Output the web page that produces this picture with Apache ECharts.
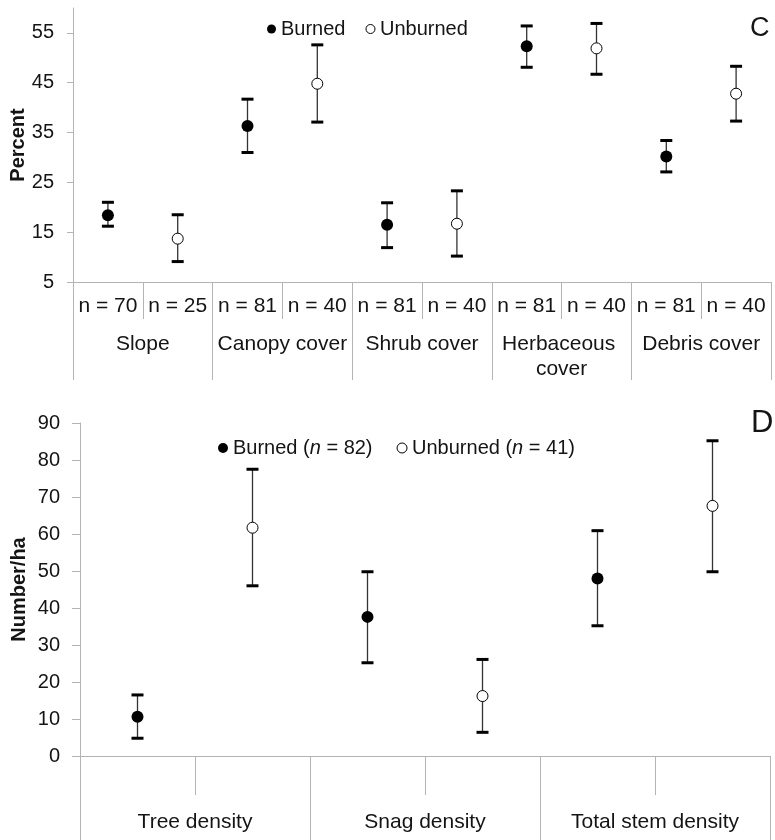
<!DOCTYPE html>
<html>
<head>
<meta charset="utf-8">
<script src="https://cdn.jsdelivr.net/npm/echarts@6/dist/echarts.min.js"></script>
<style>
  html, body { margin: 0; padding: 0; background: #fff; }
  #chart { width: 775px; height: 840px; }
</style>
</head>
<body>
<div id="chart"></div>
<script>
// panel C: cover variables
const coverGroups = ['Slope', 'Canopy cover', 'Shrub cover', 'Herbaceous cover', 'Debris cover'];
const coverBurnedN = [70, 81, 81, 81, 81];
const coverUnburnedN = [25, 40, 40, 40, 40];
const coverBurned = [18.4, 36.3, 16.5, 52.3, 30.2];
const coverBurnedLow = [16.2, 31.0, 11.9, 48.1, 27.1];
const coverBurnedHigh = [21.0, 41.7, 20.9, 56.4, 33.4];
const coverUnburned = [13.7, 44.8, 16.7, 51.9, 42.8];
const coverUnburnedLow = [9.1, 37.1, 10.2, 46.7, 37.3];
const coverUnburnedHigh = [18.5, 52.6, 23.3, 56.9, 48.3];
const coverTicks = [5, 15, 25, 35, 45, 55];

// panel D: densities
const densityGroups = ['Tree density', 'Snag density', 'Total stem density'];
const densityBurned = [10.6, 37.6, 48.0];
const densityBurnedLow = [4.8, 25.2, 35.2];
const densityBurnedHigh = [16.5, 49.8, 60.9];
const densityUnburned = [61.7, 16.2, 67.6];
const densityUnburnedLow = [46.0, 6.4, 49.8];
const densityUnburnedHigh = [77.5, 26.1, 85.2];
const burnedTotal = 82;
const unburnedTotal = 41;

const FONT = '"Liberation Sans", Arial, sans-serif';
const TEXT = '#141414';
const AXIS = '#b4b4b4';

// two sub-cells per group: burned at even slot, unburned at odd slot
const coverSlots = coverGroups.flatMap((g, i) => ['n = ' + coverBurnedN[i], 'n = ' + coverUnburnedN[i]]);
const densitySlots = densityGroups.flatMap(() => ['', '']);

const pts = (mean, off) => mean.map((v, i) => [i * 2 + off, v]);
const bars = (lo, hi, off) => lo.map((v, i) => [i * 2 + off, v, hi[i]]);

function errorBar(params, api) {
  const x = api.value(0);
  const lo = api.coord([x, api.value(1)]);
  const hi = api.coord([x, api.value(2)]);
  const w = 6;
  return {
    type: 'group',
    children: [
      { type: 'line', shape: { x1: lo[0], y1: lo[1], x2: hi[0], y2: hi[1] }, style: { stroke: '#333', lineWidth: 1.3 } },
      { type: 'line', shape: { x1: lo[0] - w, y1: lo[1], x2: lo[0] + w, y2: lo[1] }, style: { stroke: '#000', lineWidth: 3 } },
      { type: 'line', shape: { x1: hi[0] - w, y1: hi[1], x2: hi[0] + w, y2: hi[1] }, style: { stroke: '#000', lineWidth: 3 } }
    ]
  };
}

const burnedStyle = { color: '#000', opacity: 1 };
const unburnedStyle = { color: '#fff', borderColor: '#000', borderWidth: 1, opacity: 1 };

function seriesFor(grid, mB, loB, hiB, mU, loU, hiU) {
  return [
    { type: 'scatter', name: 'Burned', xAxisIndex: grid * 2, yAxisIndex: grid, symbolSize: 12,
      itemStyle: burnedStyle, data: pts(mB, 0), z: 5 },
    { type: 'scatter', name: 'Unburned', xAxisIndex: grid * 2, yAxisIndex: grid, symbolSize: 11,
      itemStyle: unburnedStyle, data: pts(mU, 1), z: 5 },
    { type: 'custom', name: 'Burned', xAxisIndex: grid * 2, yAxisIndex: grid, renderItem: errorBar,
      itemStyle: burnedStyle, encode: { x: 0, y: [1, 2] }, data: bars(loB, hiB, 0), z: 2 },
    { type: 'custom', name: 'Unburned', xAxisIndex: grid * 2, yAxisIndex: grid, renderItem: errorBar,
      itemStyle: unburnedStyle, encode: { x: 0, y: [1, 2] }, data: bars(loU, hiU, 1), z: 2 }
  ];
}

const chart = echarts.init(document.getElementById('chart'));

const legendItems = [
  { name: 'Burned', icon: 'circle', itemStyle: burnedStyle },
  { name: 'Unburned', icon: 'circle', itemStyle: unburnedStyle }
];

chart.setOption({
  animation: false,
  textStyle: { fontFamily: FONT, color: TEXT },
  title: [
    { text: 'C', left: 745, top: 10, textStyle: { fontSize: 27, fontWeight: 'normal', color: TEXT, fontFamily: FONT } },
    { text: 'D', left: 746, top: 403, textStyle: { fontSize: 31, fontWeight: 'normal', color: TEXT, fontFamily: FONT } }
  ],
  legend: [
    {
      left: 262, top: 14, itemWidth: 9, itemHeight: 9, itemGap: 20,
      data: legendItems,
      textStyle: { fontSize: 20, color: TEXT, fontFamily: FONT }
    },
    {
      left: 213, top: 433, itemWidth: 10, itemHeight: 10, itemGap: 24,
      data: legendItems,
      formatter: name => name + ' ({i|n} = ' + (name === 'Burned' ? burnedTotal : unburnedTotal) + ')',
      textStyle: {
        fontSize: 20, color: TEXT, fontFamily: FONT,
        rich: { i: { fontSize: 20, fontStyle: 'italic', color: TEXT, fontFamily: FONT } }
      }
    }
  ],
  grid: [
    { left: 73, top: 8, width: 698, height: 274, outerBoundsMode: 'none' },
    { left: 80, top: 423, width: 690, height: 333, outerBoundsMode: 'none' }
  ],
  xAxis: [
    {
      gridIndex: 0, type: 'category', position: 'bottom', data: coverSlots,
      axisLine: { show: true, lineStyle: { color: AXIS, width: 1 } },
      axisTick: { show: true, length: 37, interval: 0, lineStyle: { color: AXIS } },
      axisLabel: { interval: 0, margin: 14, fontSize: 21, color: TEXT, fontFamily: FONT }
    },
    {
      gridIndex: 0, type: 'category', position: 'bottom', data: coverGroups,
      axisLine: { show: false },
      axisTick: { show: true, length: 98, interval: 0, lineStyle: { color: AXIS } },
      axisLabel: { interval: 0, margin: 50, fontSize: 21, lineHeight: 25, width: 136, overflow: 'break',
        color: TEXT, fontFamily: FONT }
    },
    {
      gridIndex: 1, type: 'category', position: 'bottom', data: densitySlots,
      axisLine: { show: true, lineStyle: { color: AXIS, width: 1 } },
      axisTick: { show: true, length: 39, interval: 0, lineStyle: { color: AXIS } },
      axisLabel: { show: false }
    },
    {
      gridIndex: 1, type: 'category', position: 'bottom', data: densityGroups,
      axisLine: { show: false },
      axisTick: { show: true, length: 86, interval: 0, lineStyle: { color: AXIS } },
      axisLabel: { interval: 0, margin: 56, fontSize: 21, color: TEXT, fontFamily: FONT }
    }
  ],
  yAxis: [
    {
      gridIndex: 0, type: 'value', min: 5, max: 60,
      name: 'Percent', nameLocation: 'middle', nameGap: 45, nameMoveOverlap: false,
      nameTextStyle: { fontSize: 20, fontWeight: 'bold', color: TEXT, fontFamily: FONT },
      axisLine: { show: true, lineStyle: { color: AXIS } },
      axisTick: { show: true, length: 6, customValues: coverTicks, lineStyle: { color: AXIS } },
      axisLabel: { customValues: coverTicks, margin: 19, fontSize: 20, color: TEXT, fontFamily: FONT },
      splitLine: { show: false }
    },
    {
      gridIndex: 1, type: 'value', min: 0, max: 90, interval: 10,
      name: 'Number/ha', nameLocation: 'middle', nameGap: 51, nameMoveOverlap: false,
      nameTextStyle: { fontSize: 20, fontWeight: 'bold', color: TEXT, fontFamily: FONT },
      axisLine: { show: true, lineStyle: { color: AXIS } },
      axisTick: { show: true, length: 8, lineStyle: { color: AXIS } },
      axisLabel: { margin: 20, fontSize: 20, color: TEXT, fontFamily: FONT },
      splitLine: { show: false }
    }
  ],
  series: [
    ...seriesFor(0, coverBurned, coverBurnedLow, coverBurnedHigh, coverUnburned, coverUnburnedLow, coverUnburnedHigh),
    ...seriesFor(1, densityBurned, densityBurnedLow, densityBurnedHigh, densityUnburned, densityUnburnedLow, densityUnburnedHigh)
  ]
});
</script>
</body>
</html>
